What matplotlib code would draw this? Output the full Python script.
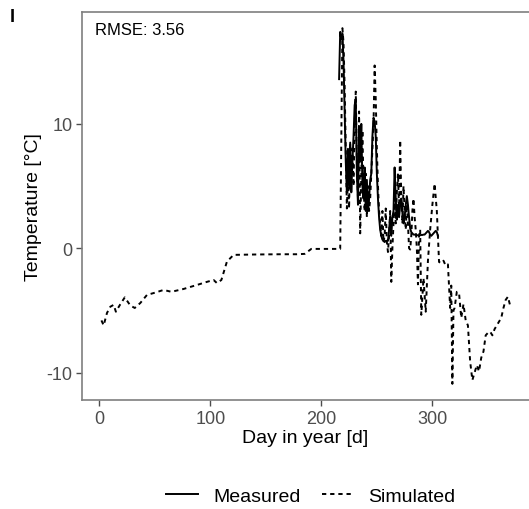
import matplotlib
matplotlib.use("Agg")
import matplotlib.pyplot as plt
from matplotlib.lines import Line2D

plt.rcParams['font.family'] = ['Liberation Sans', 'DejaVu Sans']
plt.rcParams['axes.unicode_minus'] = False

# simulated temperature (dashed)
sim_day = [2, 4, 7, 10, 13, 15, 19, 23, 28, 32, 37, 43, 49, 58, 65, 76, 88, 97,
           103, 106, 110, 115, 121, 140, 163, 178, 185, 191, 200, 217,
           219, 220, 221, 222, 223, 224, 225, 226, 227, 228, 229, 230, 231, 232,
           233, 234, 235, 236, 237, 238, 239, 240, 241, 242, 243, 244, 245, 246,
           247, 248, 249, 250, 251, 252, 253, 254, 255, 256, 257, 258, 259, 260,
           261, 262, 263, 264, 265, 266, 267, 268, 269, 270, 271, 272, 273, 274,
           275, 276, 277, 278, 279, 280, 281, 282, 283, 284, 285, 286, 287, 288,
           289, 290, 292, 294, 296, 298, 300, 302, 304, 306, 308, 310, 312, 314,
           316, 317, 318, 319, 320, 322, 324, 326, 328, 330, 332, 334, 336, 338,
           340, 342, 344, 346, 348, 350, 352, 354, 356, 358, 360, 362, 364, 366,
           368, 370]
sim_temp = [-5.8, -6.2, -5.2, -4.7, -4.55, -5.1, -4.5, -3.95, -4.6, -4.8, -4.4,
            -3.75, -3.6, -3.35, -3.5, -3.27, -2.95, -2.7, -2.55, -2.8, -2.55,
            -1.07, -0.53, -0.5, -0.48, -0.48, -0.45, -0.05, -0.05, -0.05,
            17.7, 16.5, 13.0, 8.0, 3.2, 6.0, 3.2, 8.4, 6.0, 8.0, 5.0, 10.0, 12.6,
            7.0, 4.0, 11.0, 1.2, 6.0, 9.5, 5.0, 3.0, 6.0, 2.5, 5.0, 3.0, 4.0, 6.0,
            8.0, 10.0, 14.7, 12.0, 8.0, 5.0, 3.0, 2.0, 1.0, 3.0, 0.5, 1.0, 3.2,
            0.5, -0.3, 1.0, 3.0, -2.7, 0.0, 2.0, 4.0, 2.0, 4.5, 6.0, 3.0, 8.7,
            4.0, 2.0, 5.0, 3.0, 1.5, 3.5, 2.0, 0.0, -0.1, 1.0, 3.0, 4.0, 2.5, 1.5,
            0.0, -2.9, 1.0, 1.5, -5.35, -2.4, -5.1, -1.0, 1.5, 3.5, 5.2, 3.0,
            -1.1, -1.2, -1.0, -1.4, -1.3, -4.8, -3.0, -10.9, -5.0, -4.8, -3.5,
            -3.6, -5.6, -4.5, -5.8, -6.2, -9.1, -10.6, -10.0, -9.4, -9.9, -8.8,
            -8.3, -7.0, -6.8, -6.7, -7.0, -6.5, -6.2, -5.9, -5.6, -4.8, -4.15,
            -3.9, -4.6]

# measured temperature (solid)
meas_day = list(range(216, 306))
meas_temp = [13.6, 17.4, 16.8, 17.2, 15.0, 11.0, 7.0, 4.5, 8.0, 5.0, 8.5, 4.5,
             7.0, 9.0, 11.5, 12.0, 6.0, 3.5, 9.5, 7.0, 10.0, 5.0, 4.0, 6.5, 3.0,
             5.5, 3.0, 4.0, 5.5, 6.0, 9.0, 10.5, 10.2, 9.0, 6.0, 4.0, 2.5, 1.5,
             1.0, 0.7, 0.6, 0.5, 0.6, 0.6, 0.6, 1.5, 2.5, 1.0, 2.5, 3.0, 6.5,
             4.0, 2.3, 3.5, 2.5, 3.5, 4.0, 3.0, 2.0, 2.5, 3.5, 4.2, 3.5, 2.5,
             1.6, 1.3, 1.2, 1.1, 1.1, 1.07, 1.05, 1.05, 1.05, 1.05, 1.07, 1.07,
             1.1, 1.1, 1.2, 1.3, 1.4, 1.3, 1.1, 1.0, 1.1, 1.2, 1.3, 1.4, 1.3,
             1.0]

x_ticks = [0, 100, 200, 300]
y_ticks = [-10, 0, 10]
rmse_text = "RMSE: 3.56"

fig = plt.figure(figsize=(5.29, 5.10), dpi=100)
ax = fig.add_axes([82 / 529, 1 - 401 / 510, 1 - 82 / 529, 388 / 510])

ax.plot(meas_day, meas_temp, color="black", lw=1.4, solid_joinstyle="round")
ax.plot(sim_day, sim_temp, color="black", lw=1.4, dashes=(2.2, 2.0))

ax.set_xlim(-15.5, 387)
ax.set_ylim(-12.2, 19.0)
ax.set_xticks(x_ticks)
ax.set_yticks(y_ticks)
ax.tick_params(colors="#4d4d4d", labelsize=13, length=4, width=1, pad=3)
ax.tick_params(axis="y", labelcolor="#4d4d4d")
for s in ["left", "bottom", "top"]:
    ax.spines[s].set_color("#7f7f7f")
    ax.spines[s].set_linewidth(1.2)
ax.spines["right"].set_visible(False)

ax.set_xlabel("Day in year [d]", fontsize=14, labelpad=2)
ax.set_ylabel("Temperature [°C]", fontsize=14, labelpad=3)

ax.text(0.03, 0.975, rmse_text, transform=ax.transAxes, fontsize=12,
        va="top", ha="left")
fig.text(10 / 529, 1 - 17 / 510, "I", fontsize=13, fontweight="bold",
         va="center", ha="left")

handles = [Line2D([], [], color="black", lw=1.4),
           Line2D([], [], color="black", lw=1.4, dashes=(2.2, 2.0))]
fig.legend(handles, ["Measured", "Simulated"], loc="center",
           bbox_to_anchor=(311 / 529, 1 - 497 / 510), ncol=2, frameon=False,
           fontsize=14, handlelength=1.6, columnspacing=1.1, handletextpad=0.8)

fig.savefig("out.png", dpi=100)
